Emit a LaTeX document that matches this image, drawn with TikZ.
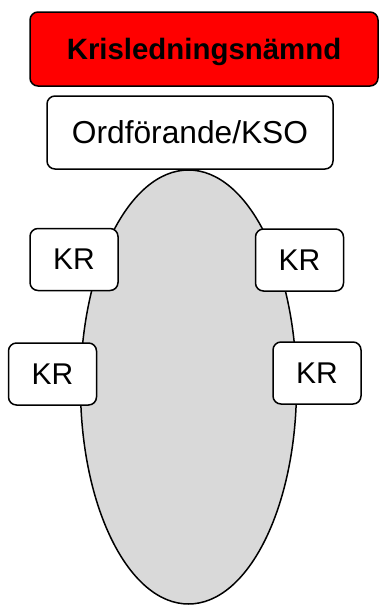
\documentclass[tikz,border=0pt]{standalone}
\usepackage{fontspec}
\setmainfont{Liberation Sans}
\usetikzlibrary{shapes.geometric}

\begin{document}
\begin{tikzpicture}[x=1pt, y=-1pt, line width=1.5pt,
    kbox/.style={draw, rounded corners=8pt, fill=white, inner sep=0pt,
      text depth=0pt, font=\fontsize{30}{36}\selectfont},
    krbox/.style={kbox, minimum width=88pt, minimum height=62pt}]
  \useasboundingbox (0,0) rectangle (379,605);

  % the gray oval behind
  \node[draw, ellipse, fill={rgb,255:red,217;green,217;blue,217},
    minimum width=216pt, minimum height=434pt, inner sep=0pt] (oval) at (188.5, 387) {};

  \node[kbox, fill=red, minimum width=348pt, minimum height=74pt,
    font=\fontsize{29.4}{34}\selectfont\bfseries] (namnd) at (204, 49) {Krisledningsnämnd};
  \node[kbox, minimum width=286pt, minimum height=73pt,
    font=\fontsize{31.7}{36}\selectfont] (ordf) at (190, 132.5) {Ordförande/KSO};

  \node[krbox] (krTL) at (74, 259.5) {KR};
  \node[krbox] (krTR) at (299.5, 260) {KR};
  \node[krbox] (krBL) at (52.5, 374) {KR};
  \node[krbox] (krBR) at (317, 373) {KR};
\end{tikzpicture}
\end{document}
